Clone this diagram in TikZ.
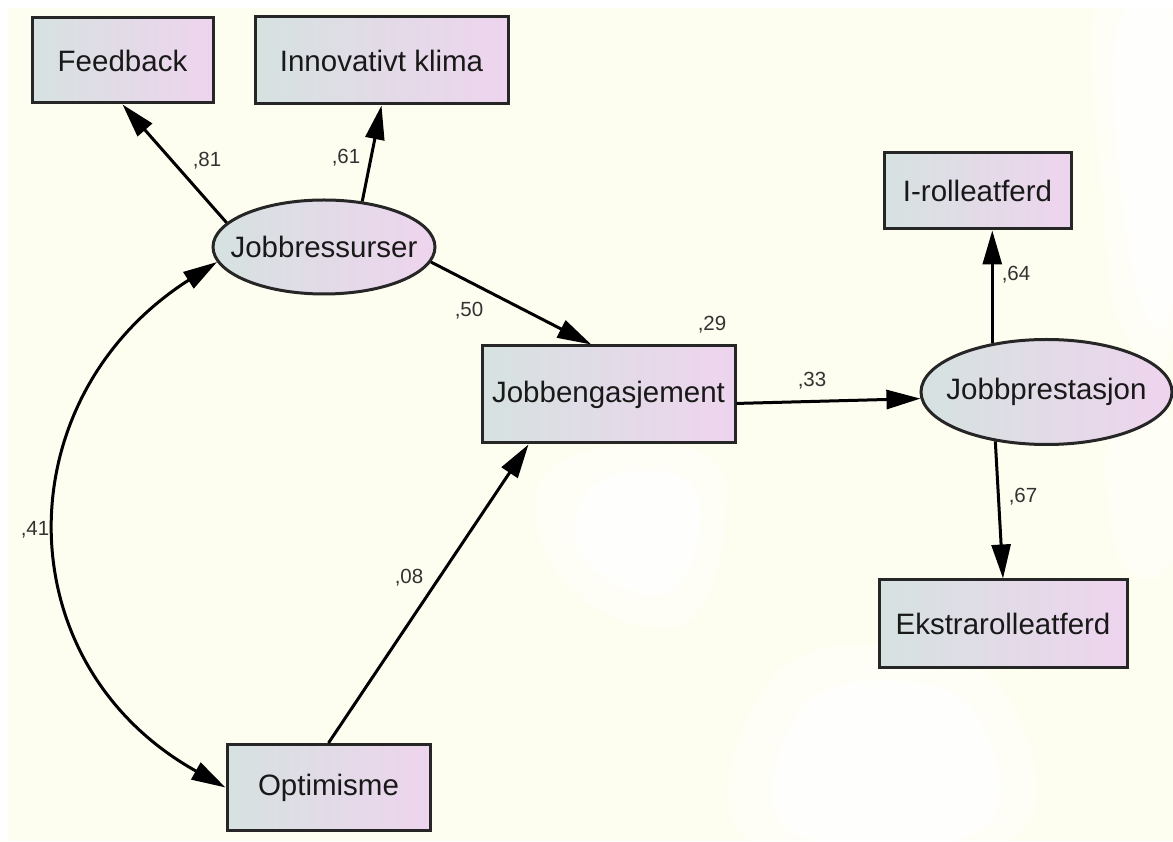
\documentclass[tikz,border=0pt]{standalone}
\usepackage{fontspec}
\setmainfont{Liberation Sans}
\usetikzlibrary{arrows.meta,shapes.geometric,calc}
\definecolor{bgcream}{RGB}{254,254,240}
\definecolor{gradl}{RGB}{214,226,224}
\definecolor{gradr}{RGB}{238,212,238}
\definecolor{labgray}{RGB}{50,50,50}
\begin{document}
\begin{tikzpicture}[x=1pt,y=1pt,
  box/.style={draw=black!85, line width=3pt, left color=gradl, right color=gradr,
    inner sep=0pt, text=black!90, font=\fontsize{29.5}{34}\selectfont},
  lat/.style={box, ellipse, inner xsep=-20pt},
  lab/.style={font=\fontsize{20.5}{24}\selectfont, text=labgray, inner sep=0pt},
  tipA/.tip={Triangle[length=34pt,width=19pt]},
  arr/.style={line width=3pt, -tipA},
  biarr/.style={line width=3pt, tipA-tipA},
  patch/.style={fill=white, opacity=0.45},
  patchin/.style={fill=white, opacity=0.75},
]
\useasboundingbox (0,0) rectangle (1173,841);
\fill[white] (0,0) rectangle (1173,841);
\fill[bgcream] (8,0) rectangle (1173,833);
% pale white patches of the background
\fill[patch] plot[smooth cycle, tension=0.7] coordinates {(1095,836) (1173,841) (1173,505) (1120,515) (1103,641)};
\fill[patchin] plot[smooth cycle, tension=0.7] coordinates {(1115,800) (1173,820) (1173,540) (1135,560)};
\fill[patch] plot[smooth cycle, tension=0.7] coordinates {(560,380) (700,390) (725,321) (690,221) (600,231) (540,301)};
\fill[patchin] plot[smooth cycle, tension=0.7] coordinates {(600,360) (680,365) (700,315) (670,250) (610,260) (575,305)};
\fill[patch] plot[smooth cycle, tension=0.7] coordinates {(770,161) (900,195) (1010,141) (1010,0) (750,0)};
\fill[patchin] plot[smooth cycle, tension=0.7] coordinates {(800,130) (900,160) (980,120) (980,10) (790,10)};
\fill[patch] plot[smooth cycle, tension=0.7] coordinates {(1110,411) (1173,421) (1173,281) (1120,281)};

% observed variables
\node[box, minimum width=181pt, minimum height=85pt] (fb) at (122.5,780.5) {Feedback};
\node[box, minimum width=253pt, minimum height=87pt] (ik) at (381.5,780.5) {Innovativt klima};
\node[box, minimum width=253pt, minimum height=97pt] (je) at (608.5,446.5) {Jobbengasjement};
\node[box, minimum width=187pt, minimum height=76pt] (irl) at (977.5,650) {I-rolleatferd};
\node[box, minimum width=248pt, minimum height=88pt] (ek) at (1003,217) {Ekstrarolleatferd};
\node[box, minimum width=203pt, minimum height=86pt] (opt) at (328.5,53.5) {Optimisme};
% latent variables
\node[lat, minimum width=222pt, minimum height=94pt] (jr) at (324,594) {Jobbressurser};
\node[lat, minimum width=251pt, minimum height=105pt] (jp) at (1046.5,449) {Jobbprestasjon};

% paths
\draw[arr] (jr.166) -- (fb.south);
\draw[arr] (jr.50) -- (ik.south);
\draw[arr] (jr.352) -- (je.109);
\draw[arr] (je.356) -- (jp.183);
\draw[arr] (jp.138) -- (jp.138 |- irl.south);
\draw[arr] (jp.224) -- (ek.north);
\draw[arr] (opt.north) -- (je.212);
\draw[biarr] (jr.188) .. controls (4,443) and (4,177) .. (opt.west);

% coefficients
\node[lab] (l81) at (207,680) {,81};
\node[lab] (l61) at (346,683) {,61};
\node[lab] (l50) at (469,530) {,50};
\node[lab] (l29) at (712,516) {,29};
\node[lab] (l33) at (812,460) {,33};
\node[lab] (l64) at (1016,566) {,64};
\node[lab] (l67) at (1023,344) {,67};
\node[lab] (l08) at (409,263) {,08};
\node[lab] (l41) at (35,311) {,41};
\end{tikzpicture}
\end{document}
